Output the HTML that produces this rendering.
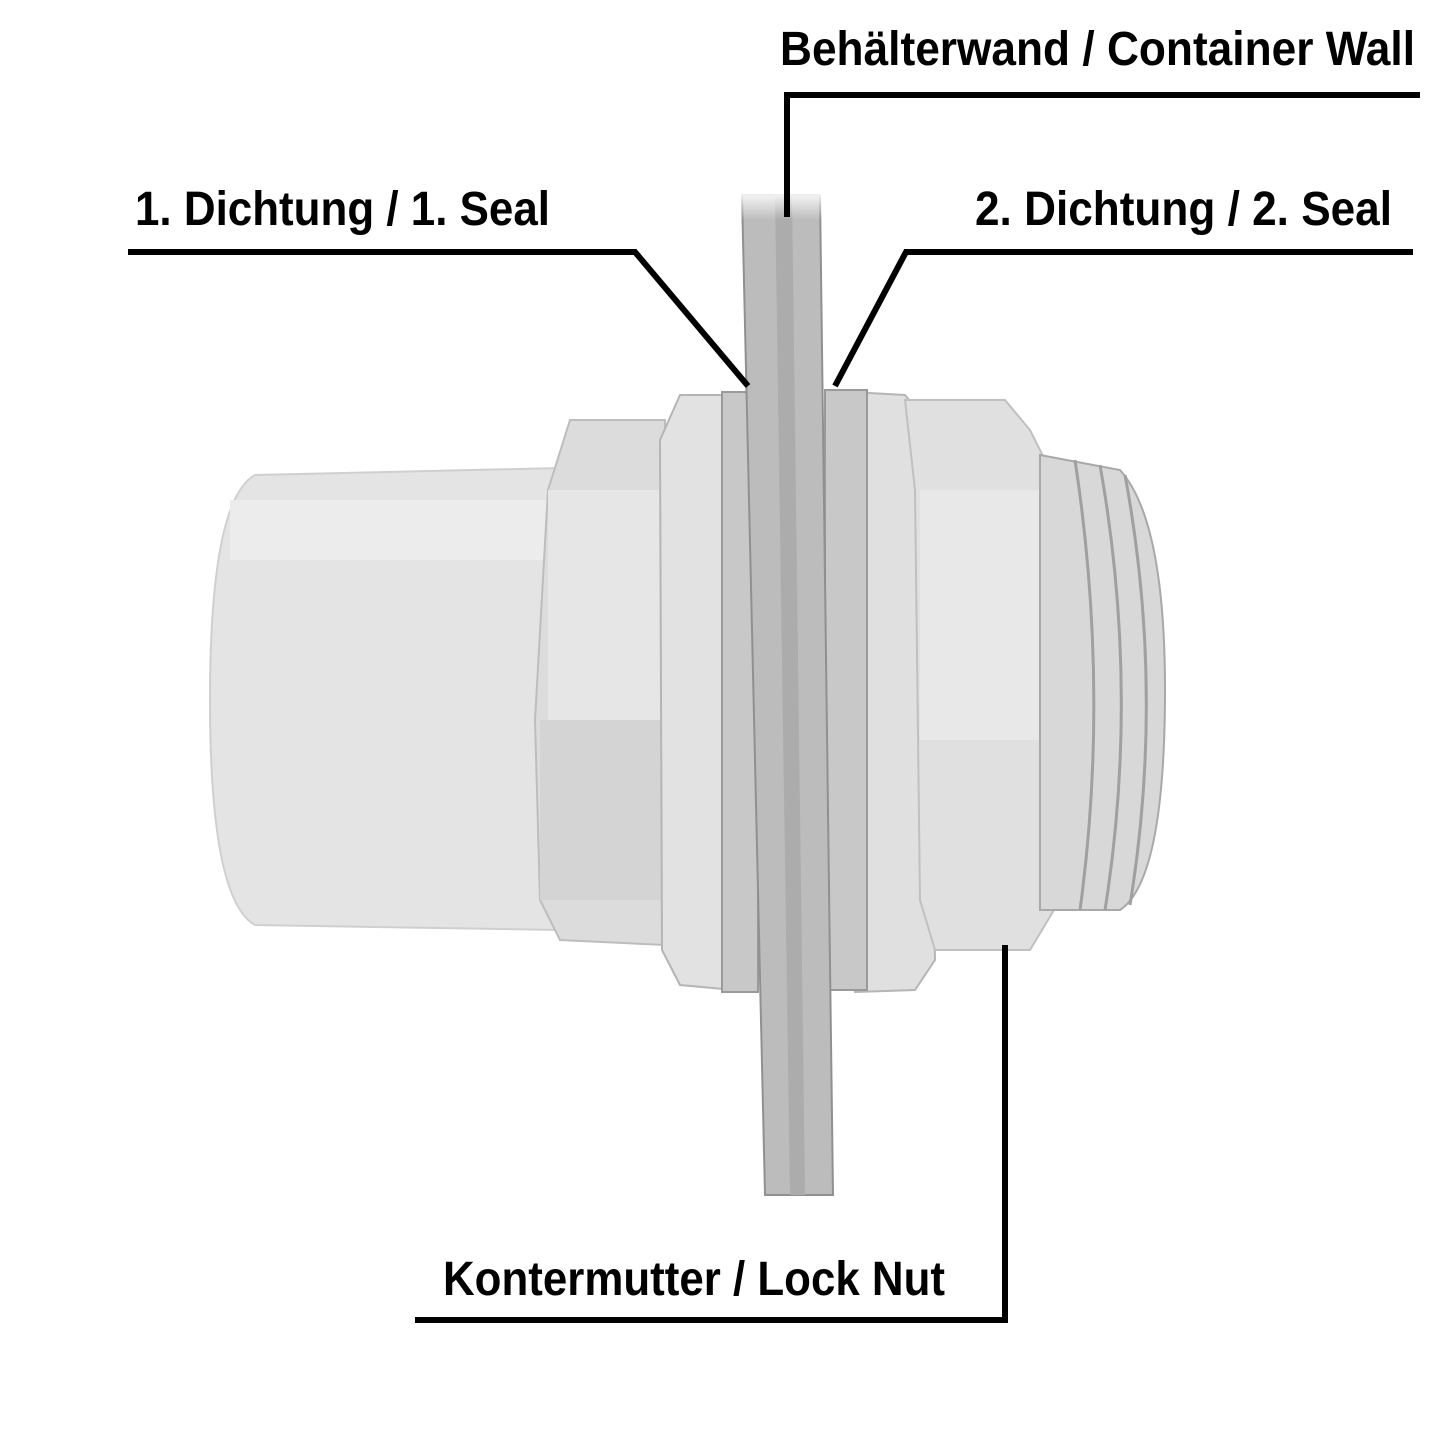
<!DOCTYPE html>
<html><head><meta charset="utf-8"><style>
html,body{margin:0;padding:0;background:#fff;}
svg{display:block;}
text{font-family:"Liberation Sans Narrow","Liberation Sans",sans-serif;font-weight:bold;fill:#000;}
</style></head><body>
<svg width="1445" height="1445" viewBox="0 0 1445 1445" xmlns="http://www.w3.org/2000/svg">
<defs>
<linearGradient id="fade" x1="0" y1="0" x2="0" y2="1">
<stop offset="0" stop-color="#fff"/><stop offset="1" stop-color="#fff" stop-opacity="0"/>
</linearGradient>
</defs>
<rect width="1445" height="1445" fill="#fff"/>
<!-- pipe left -->
<path d="M255 475 L560 468 L560 930 L255 925 Q210 900 210 700 Q210 500 255 475Z" fill="#e4e4e4" stroke="#cfcfcf" stroke-width="2"/>
<rect x="230" y="500" width="320" height="60" fill="#ececec"/>
<!-- left hex nut -->
<path d="M570 420 L665 420 L665 945 L560 940 L540 900 L535 720 L548 490Z" fill="#dcdcdc" stroke="#bdbdbd" stroke-width="2"/>
<rect x="548" y="490" width="115" height="230" fill="#e6e6e6"/>
<rect x="540" y="720" width="125" height="180" fill="#d4d4d4"/>
<!-- flange -->
<path d="M680 395 L735 395 L735 990 L680 985 L662 950 L660 440Z" fill="#e2e2e2" stroke="#b5b5b5" stroke-width="2"/>
<!-- seal 1 -->
<rect x="722" y="392" width="36" height="600" fill="#c8c8c8" stroke="#9a9a9a" stroke-width="2"/>
<!-- lock nut + right parts -->
<path d="M850 392 L905 395 L925 420 L935 960 L915 990 L855 992Z" fill="#e0e0e0" stroke="#b5b5b5" stroke-width="2"/>
<path d="M905 400 L1005 400 L1030 430 L1060 490 L1060 900 L1030 950 L935 950 L920 900 L915 490Z" fill="#e0e0e0" stroke="#c0c0c0" stroke-width="2"/>
<rect x="920" y="490" width="140" height="250" fill="#e8e8e8"/>
<!-- thread -->
<path d="M1040 455 L1120 470 Q1165 520 1165 690 Q1165 880 1120 910 L1040 910Z" fill="#d8d8d8" stroke="#a8a8a8" stroke-width="2"/>
<g stroke="#a0a0a0" stroke-width="3" fill="none">
<path d="M1075 460 Q1110 690 1080 910"/>
<path d="M1100 465 Q1140 690 1105 910"/>
<path d="M1125 475 Q1165 690 1130 905"/>
</g>
<!-- seal 2 -->
<rect x="825" y="390" width="42" height="600" fill="#c8c8c8" stroke="#9a9a9a" stroke-width="2"/>
<!-- wall -->
<path d="M742 195 L820 195 L833 1195 L765 1195Z" fill="#bcbcbc" stroke="#909090" stroke-width="2"/>
<path d="M775 195 L792 195 L805 1195 L790 1195Z" fill="#acacac"/>
<rect x="735" y="190" width="95" height="30" fill="url(#fade)"/>
<!-- labels -->
<text x="780" y="65" font-size="48" textLength="635" lengthAdjust="spacingAndGlyphs">Behälterwand / Container Wall</text>
<text x="135" y="225" font-size="48" textLength="415" lengthAdjust="spacingAndGlyphs">1. Dichtung / 1. Seal</text>
<text x="975" y="225" font-size="48" textLength="417" lengthAdjust="spacingAndGlyphs">2. Dichtung / 2. Seal</text>
<text x="443" y="1295" font-size="48" textLength="502" lengthAdjust="spacingAndGlyphs">Kontermutter / Lock Nut</text>
<!-- leader lines -->
<g stroke="#000" stroke-width="6" fill="none" stroke-linejoin="miter">
<path d="M1420 95 L787 95 L787 217"/>
<path d="M128 252 L635 252 L748 386"/>
<path d="M1413 252 L906 252 L835 386"/>
<path d="M415 1320 L1005 1320 L1005 945"/>
</g>
</svg>
</body></html>
